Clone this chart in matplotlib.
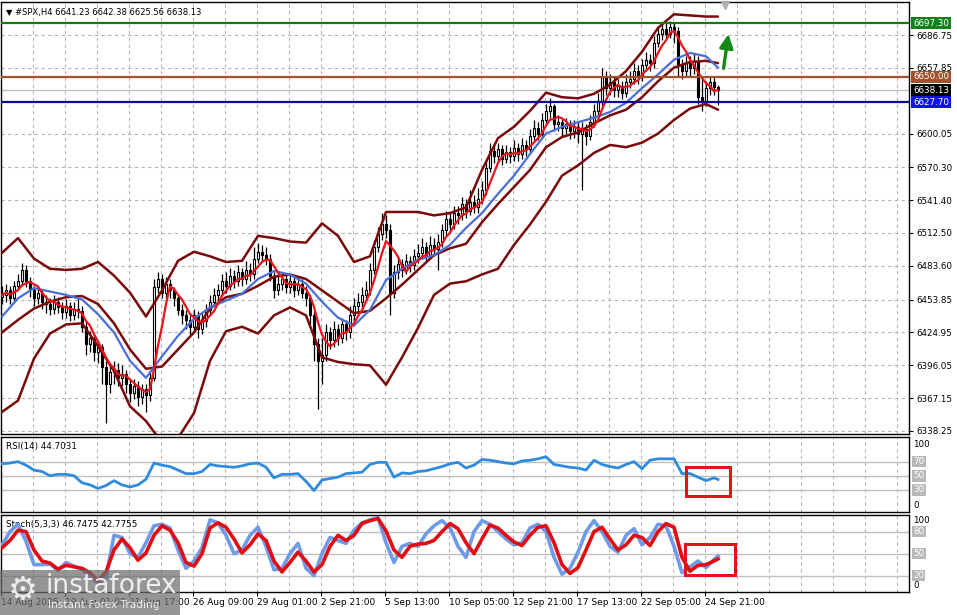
import numpy as np
import pandas as pd
import matplotlib
matplotlib.use('Agg')
import matplotlib.pyplot as plt
from matplotlib.patches import Rectangle
from matplotlib.transforms import blended_transform_factory

# ---------------- data ----------------
first_open = 6456.0
closes = [6458,6462,6455,6466,6470,6480,6470,6462,6455,6460,
          6452,6450,6446,6452,6447,6443,6448,6440,6446,6444,
          6430,6415,6420,6408,6412,6395,6380,6390,6392,6385,
          6388,6380,6372,6378,6368,6375,6370,6385,6465,6472,
          6460,6468,6462,6455,6445,6440,6436,6430,6440,6428,
          6435,6445,6452,6458,6462,6470,6466,6475,6470,6478,
          6472,6480,6476,6490,6496,6493,6490,6475,6462,6468,
          6472,6465,6470,6462,6468,6460,6455,6440,6415,6400,
          6405,6425,6418,6428,6420,6432,6425,6440,6448,6452,
          6458,6462,6480,6500,6512,6520,6515,6460,6478,6485,
          6480,6488,6484,6492,6495,6500,6493,6502,6498,6505,
          6515,6525,6520,6530,6528,6538,6532,6540,6535,6542,
          6550,6570,6585,6580,6586,6578,6584,6580,6587,6582,
          6590,6586,6598,6605,6600,6612,6620,6624,6608,6610,
          6605,6608,6602,6606,6600,6604,6598,6610,6620,6628,
          6650,6640,6645,6638,6642,6636,6645,6648,6655,6650,
          6660,6665,6662,6680,6688,6692,6688,6694,6690,6660,
          6655,6662,6658,6664,6632,6628,6640,6645,6641.23,6638.13]
highs = [6466,6468,6466,6470,6476,6486,6484,6474,6466,6465,
         6463,6458,6455,6458,6456,6452,6454,6452,6452,6455,
         6448,6434,6426,6424,6418,6415,6400,6398,6400,6398,
         6396,6392,6385,6384,6382,6380,6380,6392,6472,6478,
         6476,6474,6472,6465,6458,6450,6445,6440,6446,6444,
         6442,6450,6458,6464,6468,6476,6478,6482,6480,6484,
         6482,6488,6486,6500,6504,6502,6500,6494,6478,6476,
         6478,6476,6476,6474,6474,6472,6466,6458,6444,6420,
         6420,6432,6430,6435,6432,6438,6436,6448,6455,6460,
         6465,6470,6486,6506,6518,6530,6528,6520,6484,6492,
         6490,6494,6492,6498,6503,6508,6505,6510,6508,6512,
         6520,6532,6530,6536,6536,6544,6542,6550,6546,6552,
         6558,6578,6592,6590,6592,6590,6590,6588,6594,6592,
         6596,6594,6604,6612,6610,6618,6626,6631,6626,6616,
         6614,6614,6612,6612,6610,6610,6608,6616,6626,6636,
         6658,6655,6652,6650,6648,6646,6652,6655,6662,6660,
         6666,6672,6670,6686,6694,6698,6697,6699,6698,6694,
         6666,6668,6668,6670,6668,6650,6646,6650,6650,6642.38]
lows = [6450,6452,6450,6452,6462,6466,6465,6456,6448,6450,
        6446,6442,6440,6441,6442,6437,6438,6435,6436,6438,
        6425,6405,6408,6400,6398,6380,6345,6372,6380,6378,
        6378,6372,6364,6366,6360,6362,6355,6365,6382,6460,
        6455,6455,6455,6448,6440,6432,6428,6422,6425,6420,
        6424,6430,6440,6448,6452,6458,6460,6462,6464,6466,
        6466,6468,6470,6472,6486,6488,6484,6470,6455,6458,
        6462,6460,6460,6456,6458,6455,6448,6432,6400,6358,
        6380,6400,6410,6412,6414,6416,6418,6420,6435,6442,
        6446,6452,6458,6476,6496,6506,6508,6440,6455,6472,
        6474,6476,6478,6480,6486,6490,6488,6490,6492,6480,
        6500,6510,6514,6516,6520,6524,6526,6528,6530,6530,
        6538,6546,6566,6574,6575,6572,6574,6574,6576,6576,
        6578,6580,6582,6594,6594,6596,6608,6614,6602,6602,
        6598,6600,6595,6596,6592,6550,6590,6594,6606,6615,
        6624,6634,6634,6632,6632,6630,6632,6640,6644,6644,
        6646,6655,6655,6658,6676,6682,6682,6684,6680,6650,
        6648,6650,6650,6652,6626,6620,6624,6634,6634,6625.56]

# indicator lines read every 4 bars (bars 0,4,...,176,179)
bb_upper = [6495,6508,6490,6481,6480,6481,6487,6475,6460,6439,
            6462,6488,6496,6492,6487,6488,6510,6508,6505,6504,
            6521,6510,6487,6492,6531,6531,6531,6528,6530,6535,
            6568,6596,6606,6620,6636,6632,6631,6635,6643,6655,
            6672,6693,6705,6704,6703,6703]
bb_middle = [6425,6436,6446,6452,6456,6457,6450,6433,6410,6393,
             6395,6410,6425,6446,6456,6459,6466,6474,6476,6472,
             6462,6452,6442,6444,6455,6467,6480,6493,6499,6503,
             6522,6538,6553,6568,6588,6597,6601,6609,6616,6621,
             6632,6646,6658,6663,6664,6662]
bb_lower = [6355,6365,6402,6424,6432,6433,6413,6391,6360,6347,
            6328,6332,6354,6400,6426,6430,6424,6440,6447,6440,
            6403,6399,6397,6396,6379,6403,6429,6458,6468,6470,
            6476,6481,6502,6520,6540,6563,6572,6583,6590,6588,
            6592,6600,6612,6622,6626,6621]
ma_slow = [6439,6455,6464,6461,6458,6454,6441,6425,6400,6385,
           6404,6422,6437,6447,6453,6459,6472,6479,6476,6468,
           6452,6438,6431,6445,6471,6481,6489,6493,6502,6517,
           6530,6547,6563,6582,6600,6606,6610,6614,6619,6627,
           6640,6652,6665,6671,6668,6658]

# oscillators read every 2 bars (bars 0,2,...,178,179)
rsi = [67,68,70,65,58,56,50,52,52,50,
       40,37,32,36,43,37,34,37,45,68,
       65,63,58,53,53,56,66,64,63,62,
       64,67,68,62,47,52,52,53,42,29,
       44,46,48,53,54,55,66,69,69,48,
       54,53,56,57,60,63,67,69,61,65,
       73,72,70,68,67,71,72,74,77,66,
       64,62,61,58,72,66,63,61,66,70,
       60,72,74,74,74,53,53,48,43,47,
       44.7031]
stoch_k = [62,80,90,67,35,35,36,27,38,33,
           28,18,10,17,75,72,50,45,65,88,
           90,85,55,30,40,58,96,92,75,50,
           55,75,86,60,28,30,50,64,30,20,
           50,72,68,64,82,92,96,99,65,38,
           60,64,60,77,88,95,85,60,45,80,
           95,90,80,70,62,65,85,90,80,45,
           22,30,52,80,95,80,60,52,75,84,
           62,72,90,88,60,24,32,40,31,42,
           46.7475]
stoch_d = [58,68,82,80,55,40,37,29,34,32,
           30,24,13,25,55,70,58,41,51,75,
           88,82,65,38,33,50,85,92,86,70,
           51,62,77,68,40,25,38,52,40,25,
           35,60,75,68,75,91,95,98,81,55,
           45,60,63,64,68,80,91,84,65,50,
           70,89,85,75,66,61,75,86,88,65,
           35,23,31,55,80,86,70,55,62,75,
           72,61,80,91,86,45,26,34,35,40,
           42.7755]

price_ticks = [6686.75, 6657.85, 6600.05, 6570.30, 6541.40, 6512.50,
               6483.60, 6453.85, 6424.95, 6396.05, 6367.15, 6338.25]
grid_prices = price_ticks + [6628.95]
level_resist = 6697.30
level_mid = 6650.00
level_support = 6627.70
last_price = 6638.13
time_labels = ['14 Aug 2025', '19 Aug 01:00', '21 Aug 17:00', '26 Aug 09:00',
               '29 Aug 01:00', '2 Sep 21:00', '5 Sep 13:00', '10 Sep 05:00',
               '12 Sep 21:00', '17 Sep 13:00', '22 Sep 05:00', '24 Sep 21:00']
header = '\u25BC #SPX,H4 6641.23 6642.38 6625.56 6638.13'

# ---------------- derived ----------------
n = len(closes)
bars = np.arange(n)
closes = np.array(closes, float)
opens = np.r_[first_open, closes[:-1]]
highs = np.array(highs, float)
lows = np.array(lows, float)
ma_fast = pd.Series(closes).rolling(5, min_periods=1).mean().values
idx4 = np.r_[np.arange(0, 177, 4), n - 1]
idx2 = np.r_[np.arange(0, 179, 2), n - 1]

# ---------------- figure ----------------
W, H = 957, 615
plt.rcParams['font.family'] = ['DejaVu Sans']
fig = plt.figure(figsize=(W / 100, H / 100), dpi=100)
fig.patch.set_facecolor('white')

def axes_px(top, bottom, left=1, right=909):
    return fig.add_axes([left / W, 1 - bottom / H, (right - left) / W, (bottom - top) / H])

ax = axes_px(2, 434)
ax_rsi = axes_px(437, 512)
ax_st = axes_px(515, 592)

x_lo, x_hi = -0.25, 226.75
FS = 6.3
grid_kw = dict(color='#b4b4b4', lw=0.8, ls=(0, (3, 3)))
vgrid = np.arange(7.75, x_hi, 8)

for a in (ax, ax_rsi, ax_st):
    a.set_xlim(x_lo, x_hi)
    a.set_facecolor('white')
    for s in a.spines.values():
        s.set_color('black')
        s.set_linewidth(1.0)
    for xv in vgrid:
        a.axvline(xv, zorder=0, **grid_kw)
    a.yaxis.tick_right()
    a.tick_params(axis='y', direction='out', length=3, width=0.8, pad=2,
                  labelsize=FS, colors='black')
    a.tick_params(axis='x', bottom=False, labelbottom=False)

# ---- main panel ----
ax.set_ylim(6335.6, 6715.8)
for p in grid_prices:
    ax.axhline(p, zorder=0, **grid_kw)
ax.set_yticks(price_ticks)
ax.set_yticklabels([f'{p:.2f}' for p in price_ticks])

# candles
ax.vlines(bars, lows, highs, color='black', lw=0.9, zorder=3)
up = closes >= opens
body_h = np.where(np.abs(closes - opens) < 0.6, 0.6, closes - opens)
ax.bar(bars[up], body_h[up], bottom=opens[up], width=0.62, color='white',
       edgecolor='black', linewidth=0.8, zorder=4)
ax.bar(bars[~up], body_h[~up], bottom=opens[~up], width=0.62, color='black',
       edgecolor='black', linewidth=0.8, zorder=4)

bb_col = '#7a0a0a'
for series in (bb_upper, bb_middle, bb_lower):
    ax.plot(idx4, series, color=bb_col, lw=1.8, zorder=5, solid_capstyle='round')
ax.plot(idx4, ma_slow, color='#4a6fd8', lw=1.6, zorder=6)
ax.plot(bars, ma_fast, color='#e8141c', lw=1.6, zorder=7)

# horizontal levels
ax.axhline(last_price, color='#c0c0c0', lw=1.0, zorder=2)
ax.axhline(level_resist, color='#117a11', lw=1.6, zorder=8)
ax.axhline(level_mid, color='#a0522d', lw=1.6, zorder=8)
ax.axhline(level_support, color='#0a0a96', lw=1.6, zorder=8)

btrans = blended_transform_factory(ax.transAxes, ax.transData)
for val, bg in ((level_resist, '#11821a'), (level_mid, '#a0522d'),
                (last_price, '#000000'), (level_support, '#0c14e6')):
    ax.text(1.0 + 4 / 908, val, f'{val:.2f}', transform=btrans, ha='left',
            va='center', fontsize=FS, color='white', clip_on=False, zorder=20,
            bbox=dict(boxstyle='square,pad=0.18', fc=bg, ec='none'))

# green arrow
ax.annotate('', xy=(181.7, 6690), xytext=(180.3, 6655),
            arrowprops=dict(arrowstyle='-|>,head_length=0.8,head_width=0.4',
                            color='#138a13', lw=2.4), zorder=9)
# shift marker
ax.plot([180.8], [6713.5], marker='v', color='#b0b0b0', ms=6, zorder=9, clip_on=False)

ax.text(0.005, 0.985, header, transform=ax.transAxes, fontsize=6.0,
        va='top', ha='left', color='black', zorder=20)

# ---- RSI panel ----
ax_rsi.set_ylim(-1.5, 105)
ax_rsi.set_yticks([])
for lv in (70, 50, 30):
    ax_rsi.axhline(lv, color='#c0c0c0', lw=1.0, zorder=1)
ax_rsi.plot(idx2, rsi, color='#2f8be0', lw=2.0, zorder=5)
rtrans = blended_transform_factory(ax_rsi.transAxes, ax_rsi.transData)
ax_rsi.text(1.0 + 4 / 908, 95, '100', transform=rtrans, fontsize=FS, va='center', ha='left', clip_on=False)
ax_rsi.text(1.0 + 4 / 908, 8, '0', transform=rtrans, fontsize=FS, va='center', ha='left', clip_on=False)
for lv in (70, 50, 30):
    ax_rsi.text(1.0 + 4 / 908, lv, str(lv), transform=rtrans, fontsize=FS, va='center',
                ha='left', color='white', clip_on=False,
                bbox=dict(boxstyle='square,pad=0.15', fc='#b8b8b8', ec='none'))
ax_rsi.text(0.005, 0.93, 'RSI(14) 44.7031', transform=ax_rsi.transAxes,
            fontsize=FS, va='top', ha='left')
ax_rsi.add_patch(Rectangle((171.0, 21.5), 11.0, 41.5, fill=False, ec='#e8101a', lw=2.2, zorder=9))

# ---- Stochastic panel ----
ax_st.set_ylim(-2.3, 102.7)
ax_st.set_yticks([])
for lv in (80, 50, 20):
    ax_st.axhline(lv, color='#c0c0c0', lw=1.0, zorder=1)
ax_st.plot(idx2, stoch_k, color='#6f9ae8', lw=2.6, zorder=5)
ax_st.plot(idx2, stoch_d, color='#e00d12', lw=2.6, zorder=6)
strans = blended_transform_factory(ax_st.transAxes, ax_st.transData)
ax_st.text(1.0 + 4 / 908, 95, '100', transform=strans, fontsize=FS, va='center', ha='left', clip_on=False)
ax_st.text(1.0 + 4 / 908, 7, '0', transform=strans, fontsize=FS, va='center', ha='left', clip_on=False)
for lv in (80, 50, 20):
    ax_st.text(1.0 + 4 / 908, lv, str(lv), transform=strans, fontsize=FS, va='center',
               ha='left', color='white', clip_on=False,
               bbox=dict(boxstyle='square,pad=0.15', fc='#b8b8b8', ec='none'))
ax_st.text(0.005, 0.93, 'Stoch(5,3,3) 46.7475 42.7755', transform=ax_st.transAxes,
           fontsize=FS, va='top', ha='left')
ax_st.add_patch(Rectangle((170.8, 21.5), 12.4, 41.0, fill=False, ec='#e8101a', lw=2.2, zorder=9))

tick_pos = [-0.25 + 16 * k for k in range(len(time_labels))]
ax_st.set_xticks(tick_pos)
ax_st.set_xticklabels(time_labels, ha='left')
ax_st.tick_params(axis='x', bottom=True, labelbottom=True, direction='out',
                  length=3, width=0.8, pad=1.5, labelsize=6.5)

# ---- watermark (semi-transparent logo over the time axis) ----
fig.patches.append(Rectangle((0, 0), 180 / W, 45 / H, transform=fig.transFigure,
                             fc='#6e6e6e', ec='none', alpha=0.72, zorder=30))
fig.text(46 / W, 1 - 586 / H, 'instaforex', fontsize=19, color='#f4f4f4',
         va='center', ha='left', zorder=31, alpha=0.95)
fig.text(48 / W, 1 - 605 / H, 'Instant Forex Trading', fontsize=7.6, color='#efefef',
         va='center', ha='left', zorder=31, alpha=0.95)
fig.text(23 / W, 1 - 590 / H, '\u2699', fontsize=24, color='#f4f4f4',
         va='center', ha='center', zorder=31, alpha=0.95)

fig.savefig('out.png', dpi=100)
